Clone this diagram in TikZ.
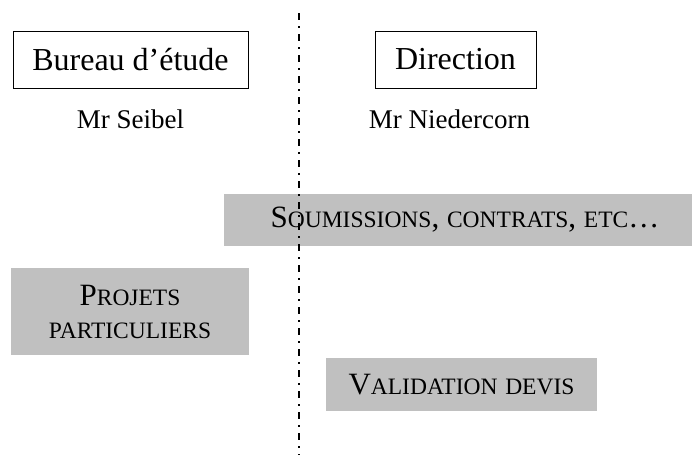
\documentclass[tikz,border=0pt]{standalone}
\usepackage{fontspec}
\setmainfont{Liberation Serif}
\usetikzlibrary{positioning}
\definecolor{boxgray}{HTML}{C0C0C0}
\newcommand{\bigsize}{\fontsize{31}{37}\selectfont}
\newcommand{\smallcap}[1]{{\fontsize{23.5}{28}\selectfont #1}}
\tikzset{
    every node/.style = {inner sep=0pt},
    titlebox/.style = {draw, line width=0.8pt, font=\fontsize{32}{38}\selectfont},
    graybox/.style = {fill=boxgray, font=\bigsize, align=center},
    person/.style = {font=\fontsize{27}{32}\selectfont},
    separator/.style = {line width=1.5pt, dash pattern=on 7pt off 6pt on 2pt off 6pt}
}

\begin{document}
\begin{tikzpicture}[x=1pt, y=-1pt]
        \useasboundingbox (0,0) rectangle (692,455);

        % the two sides
        \node[titlebox, minimum width=235pt, minimum height=57pt] (bureau) at (130.5,59.5) {Bureau d’étude};
        \node[titlebox, minimum width=161pt, minimum height=57pt] (direction) at (455.5,59.5) {Direction};
        \node[person, below=21pt of bureau] (seibel) {Mr Seibel};
        \node[person, below=21pt of direction, xshift=-6pt] (niedercorn) {Mr Niedercorn};

        % tasks
        \node[graybox, minimum width=482pt, minimum height=52pt] (soumissions) at (465,220)
            {S\smallcap{OUMISSIONS}, \smallcap{CONTRATS}, \smallcap{ETC}…};
        \node[graybox, minimum width=238pt, minimum height=87pt] (projets) at (130,311.5)
            {P\smallcap{ROJETS}\\[-4pt] \smallcap{PARTICULIERS}};
        \node[graybox, minimum width=271pt, minimum height=53pt] (validation) at (461.5,384.5)
            {V\smallcap{ALIDATION} \smallcap{DEVIS}};

        % dividing line
        \coordinate (top) at (299,13);
        \coordinate (bottom) at (299,455);
        \draw[separator] (top) -- (bottom);
\end{tikzpicture}
\end{document}
